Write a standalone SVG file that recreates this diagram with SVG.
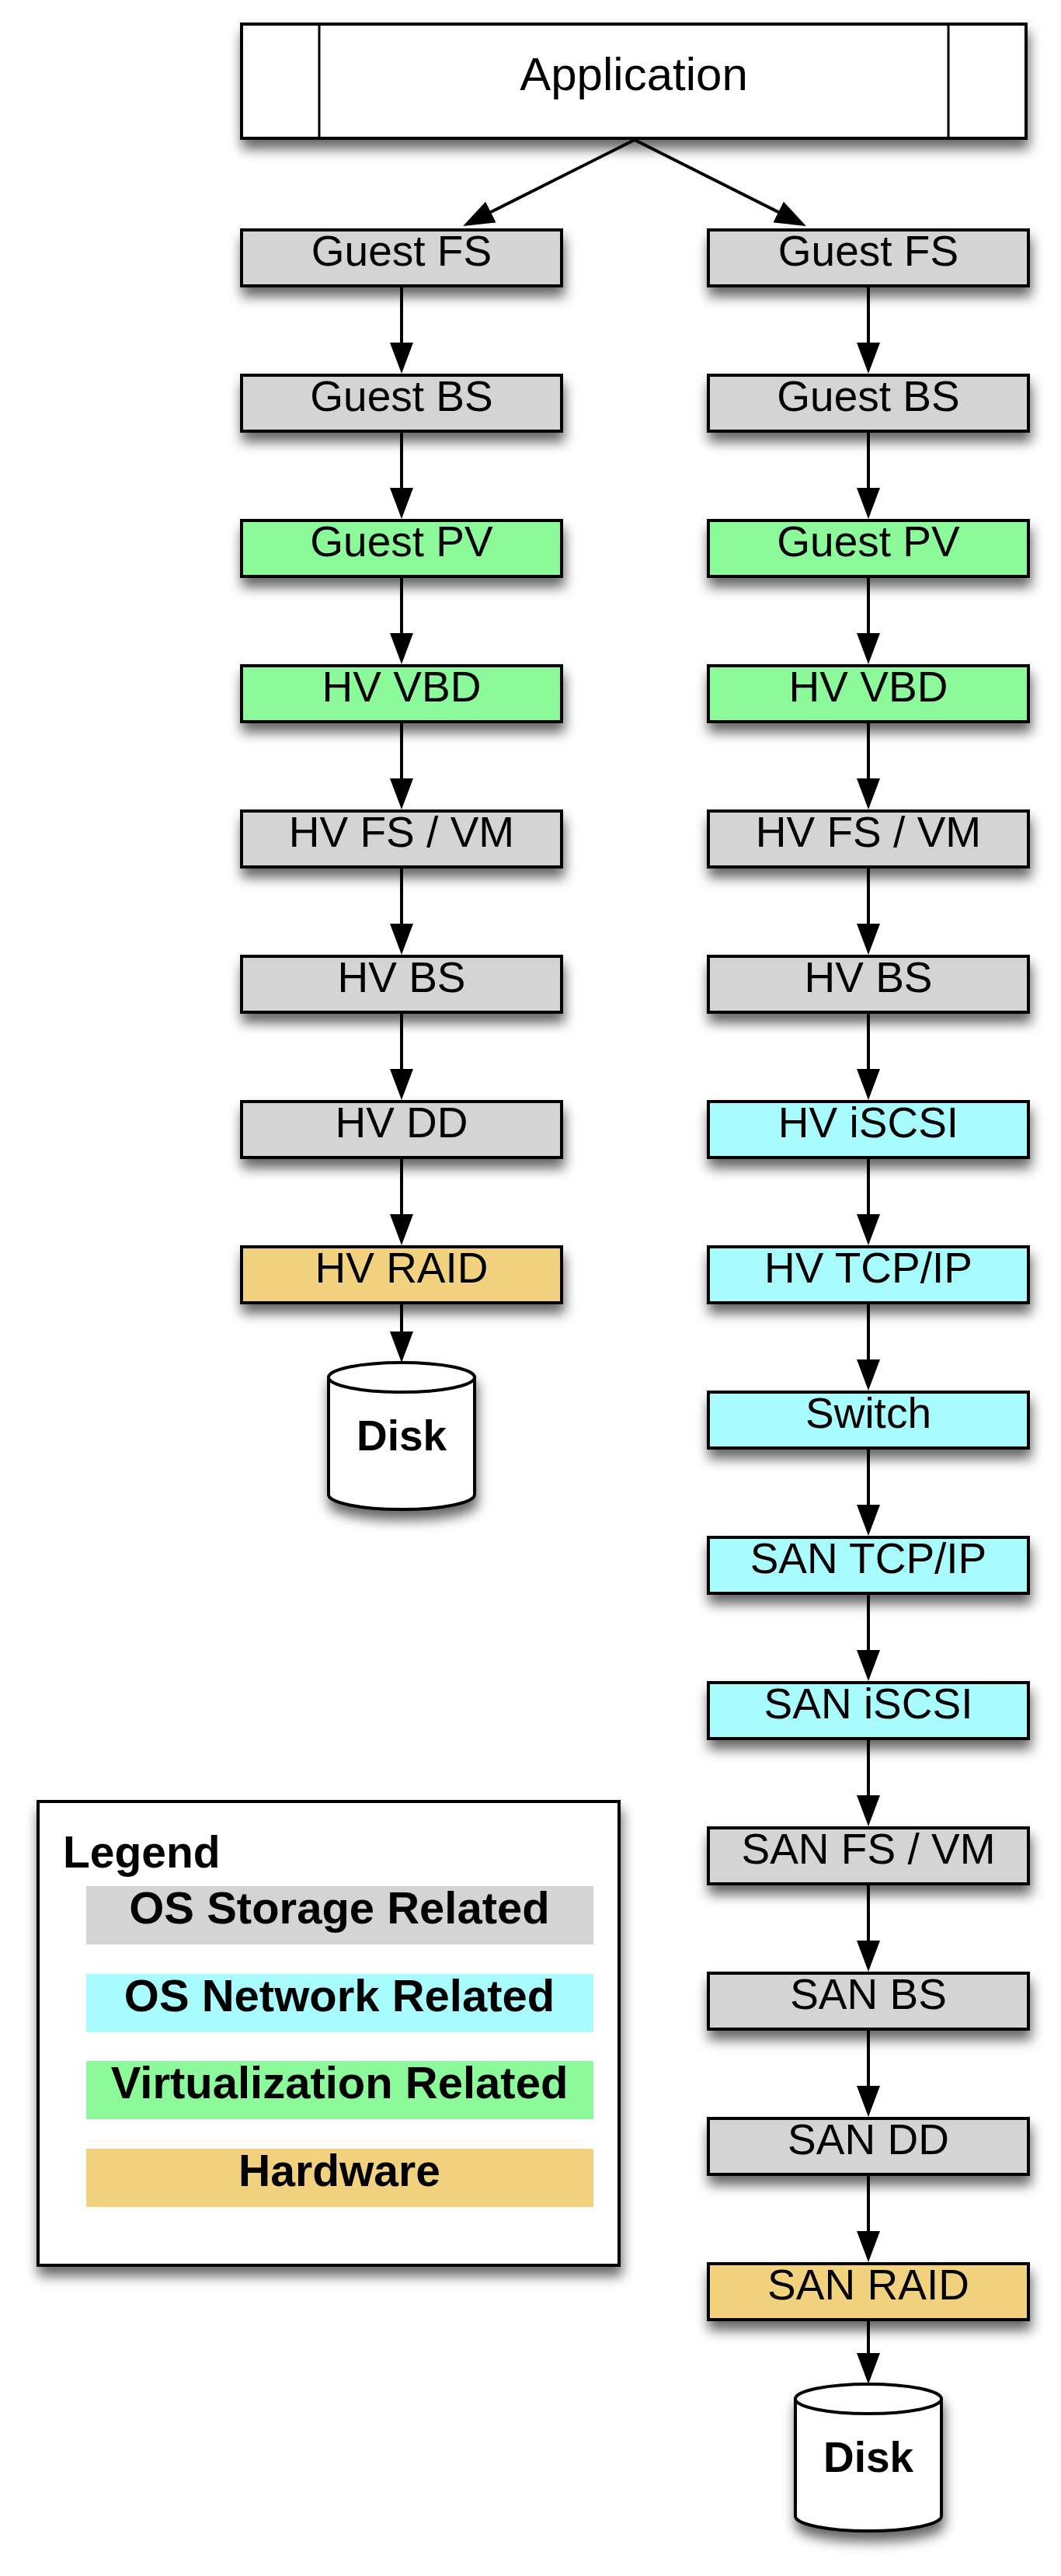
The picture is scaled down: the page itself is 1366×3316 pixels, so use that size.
<svg xmlns="http://www.w3.org/2000/svg" width="1366" height="3316" viewBox="0 0 1366 3316">
<defs>
<filter id="sh" x="-10%" y="-30%" width="125%" height="190%">
<feDropShadow dx="2" dy="12" stdDeviation="8" flood-color="#000" flood-opacity="0.6"/>
</filter>
<marker id="ah" viewBox="0 0 40 30" markerWidth="40" markerHeight="30" markerUnits="userSpaceOnUse" refX="20" refY="15" orient="auto">
<path d="M0,0 L40,15 L0,30 Z" fill="#000"/>
</marker>
<style>
.box{stroke:#000;stroke-width:4;filter:url(#sh)}
.st{fill:#d4d4d4}
.vi{fill:#8cfa9a}
.ne{fill:#a9fcfd}
.hw{fill:#f2d27e}
.lbl{font-family:"Liberation Sans",Arial,sans-serif;font-size:55px;text-anchor:middle;fill:#000}
.bold{font-family:"Liberation Sans",Arial,sans-serif;font-weight:bold;fill:#000}
.con line{stroke:#000;stroke-width:4;marker-end:url(#ah)}
.disk{fill:#fff;stroke:#000;stroke-width:4}
</style>
</defs>
<rect width="1366" height="3316" fill="#fff"/>

<g id="application">
<rect class="box" x="311" y="31" width="1010" height="147" fill="#fff"/>
<line x1="411" y1="31" x2="411" y2="178" stroke="#000" stroke-width="3"/>
<line x1="1221" y1="31" x2="1221" y2="178" stroke="#000" stroke-width="3"/>
<text class="lbl" x="816" y="116" style="font-size:60px">Application</text>
</g>

<!-- Left column -->
<g id="l-guest-fs"><rect class="box st" x="311" y="296" width="412" height="72"/><text class="lbl" x="517" y="342">Guest FS</text></g>
<g id="l-guest-bs"><rect class="box st" x="311" y="483" width="412" height="72"/><text class="lbl" x="517" y="529">Guest BS</text></g>
<g id="l-guest-pv"><rect class="box vi" x="311" y="670" width="412" height="72"/><text class="lbl" x="517" y="716">Guest PV</text></g>
<g id="l-hv-vbd"><rect class="box vi" x="311" y="857" width="412" height="72"/><text class="lbl" x="517" y="903">HV VBD</text></g>
<g id="l-hv-fsvm"><rect class="box st" x="311" y="1044" width="412" height="72"/><text class="lbl" x="517" y="1090">HV FS / VM</text></g>
<g id="l-hv-bs"><rect class="box st" x="311" y="1231" width="412" height="72"/><text class="lbl" x="517" y="1277">HV BS</text></g>
<g id="l-hv-dd"><rect class="box st" x="311" y="1418" width="412" height="72"/><text class="lbl" x="517" y="1464">HV DD</text></g>
<g id="l-hv-raid"><rect class="box hw" x="311" y="1605" width="412" height="72"/><text class="lbl" x="517" y="1651">HV RAID</text></g>
<g id="l-disk">
<path class="disk" style="filter:url(#sh)" d="M423,1773 A94,19 0 0 1 611,1773 L611,1924 A94,19 0 0 1 423,1924 Z"/>
<path d="M423,1773 A94,19 0 0 0 611,1773" fill="none" stroke="#000" stroke-width="4"/>
<text class="bold" x="517" y="1867" text-anchor="middle" font-size="55">Disk</text>
</g>

<!-- Right column -->
<g id="r-guest-fs"><rect class="box st" x="912" y="296" width="412" height="72"/><text class="lbl" x="1118" y="342">Guest FS</text></g>
<g id="r-guest-bs"><rect class="box st" x="912" y="483" width="412" height="72"/><text class="lbl" x="1118" y="529">Guest BS</text></g>
<g id="r-guest-pv"><rect class="box vi" x="912" y="670" width="412" height="72"/><text class="lbl" x="1118" y="716">Guest PV</text></g>
<g id="r-hv-vbd"><rect class="box vi" x="912" y="857" width="412" height="72"/><text class="lbl" x="1118" y="903">HV VBD</text></g>
<g id="r-hv-fsvm"><rect class="box st" x="912" y="1044" width="412" height="72"/><text class="lbl" x="1118" y="1090">HV FS / VM</text></g>
<g id="r-hv-bs"><rect class="box st" x="912" y="1231" width="412" height="72"/><text class="lbl" x="1118" y="1277">HV BS</text></g>
<g id="r-hv-iscsi"><rect class="box ne" x="912" y="1418" width="412" height="72"/><text class="lbl" x="1118" y="1464">HV iSCSI</text></g>
<g id="r-hv-tcpip"><rect class="box ne" x="912" y="1605" width="412" height="72"/><text class="lbl" x="1118" y="1651">HV TCP/IP</text></g>
<g id="r-switch"><rect class="box ne" x="912" y="1792" width="412" height="72"/><text class="lbl" x="1118" y="1838">Switch</text></g>
<g id="r-san-tcpip"><rect class="box ne" x="912" y="1979" width="412" height="72"/><text class="lbl" x="1118" y="2025">SAN TCP/IP</text></g>
<g id="r-san-iscsi"><rect class="box ne" x="912" y="2166" width="412" height="72"/><text class="lbl" x="1118" y="2212">SAN iSCSI</text></g>
<g id="r-san-fsvm"><rect class="box st" x="912" y="2353" width="412" height="72"/><text class="lbl" x="1118" y="2399">SAN FS / VM</text></g>
<g id="r-san-bs"><rect class="box st" x="912" y="2540" width="412" height="72"/><text class="lbl" x="1118" y="2586">SAN BS</text></g>
<g id="r-san-dd"><rect class="box st" x="912" y="2727" width="412" height="72"/><text class="lbl" x="1118" y="2773">SAN DD</text></g>
<g id="r-san-raid"><rect class="box hw" x="912" y="2914" width="412" height="72"/><text class="lbl" x="1118" y="2960">SAN RAID</text></g>
<g id="r-disk">
<path class="disk" style="filter:url(#sh)" d="M1024,3088 A94,19 0 0 1 1212,3088 L1212,3239 A94,19 0 0 1 1024,3239 Z"/>
<path d="M1024,3088 A94,19 0 0 0 1212,3088" fill="none" stroke="#000" stroke-width="4"/>
<text class="bold" x="1118" y="3182" text-anchor="middle" font-size="55">Disk</text>
</g>

<!-- Legend -->
<g id="legend">
<rect x="49" y="2319" width="748" height="597" fill="#fff" stroke="#000" stroke-width="4" style="filter:url(#sh)"/>
<text class="bold" x="81" y="2404" font-size="57">Legend</text>
<rect class="st" x="111" y="2428" width="653" height="75"/>
<text class="bold" x="437" y="2476" text-anchor="middle" font-size="58">OS Storage Related</text>
<rect class="ne" x="111" y="2541" width="653" height="75"/>
<text class="bold" x="437" y="2589" text-anchor="middle" font-size="58">OS Network Related</text>
<rect class="vi" x="111" y="2653" width="653" height="75"/>
<text class="bold" x="437" y="2701" text-anchor="middle" font-size="58">Virtualization Related</text>
<rect class="hw" x="111" y="2766" width="653" height="75"/>
<text class="bold" x="437" y="2814" text-anchor="middle" font-size="57">Hardware</text>
</g>

<g id="connectors" class="con">
<line x1="817" y1="180" x2="614" y2="282"/>
<line x1="817" y1="180" x2="1020" y2="282"/>
<line x1="517" y1="370" x2="517" y2="461"/>
<line x1="517" y1="557" x2="517" y2="648"/>
<line x1="517" y1="744" x2="517" y2="835"/>
<line x1="517" y1="931" x2="517" y2="1022"/>
<line x1="517" y1="1118" x2="517" y2="1209"/>
<line x1="517" y1="1305" x2="517" y2="1396"/>
<line x1="517" y1="1492" x2="517" y2="1583"/>
<line x1="517" y1="1679" x2="517" y2="1734"/>
<line x1="1118" y1="370" x2="1118" y2="461"/>
<line x1="1118" y1="557" x2="1118" y2="648"/>
<line x1="1118" y1="744" x2="1118" y2="835"/>
<line x1="1118" y1="931" x2="1118" y2="1022"/>
<line x1="1118" y1="1118" x2="1118" y2="1209"/>
<line x1="1118" y1="1305" x2="1118" y2="1396"/>
<line x1="1118" y1="1492" x2="1118" y2="1583"/>
<line x1="1118" y1="1679" x2="1118" y2="1770"/>
<line x1="1118" y1="1866" x2="1118" y2="1957"/>
<line x1="1118" y1="2053" x2="1118" y2="2144"/>
<line x1="1118" y1="2240" x2="1118" y2="2331"/>
<line x1="1118" y1="2427" x2="1118" y2="2518"/>
<line x1="1118" y1="2614" x2="1118" y2="2705"/>
<line x1="1118" y1="2801" x2="1118" y2="2892"/>
<line x1="1118" y1="2988" x2="1118" y2="3049"/>
</g>
</svg>
